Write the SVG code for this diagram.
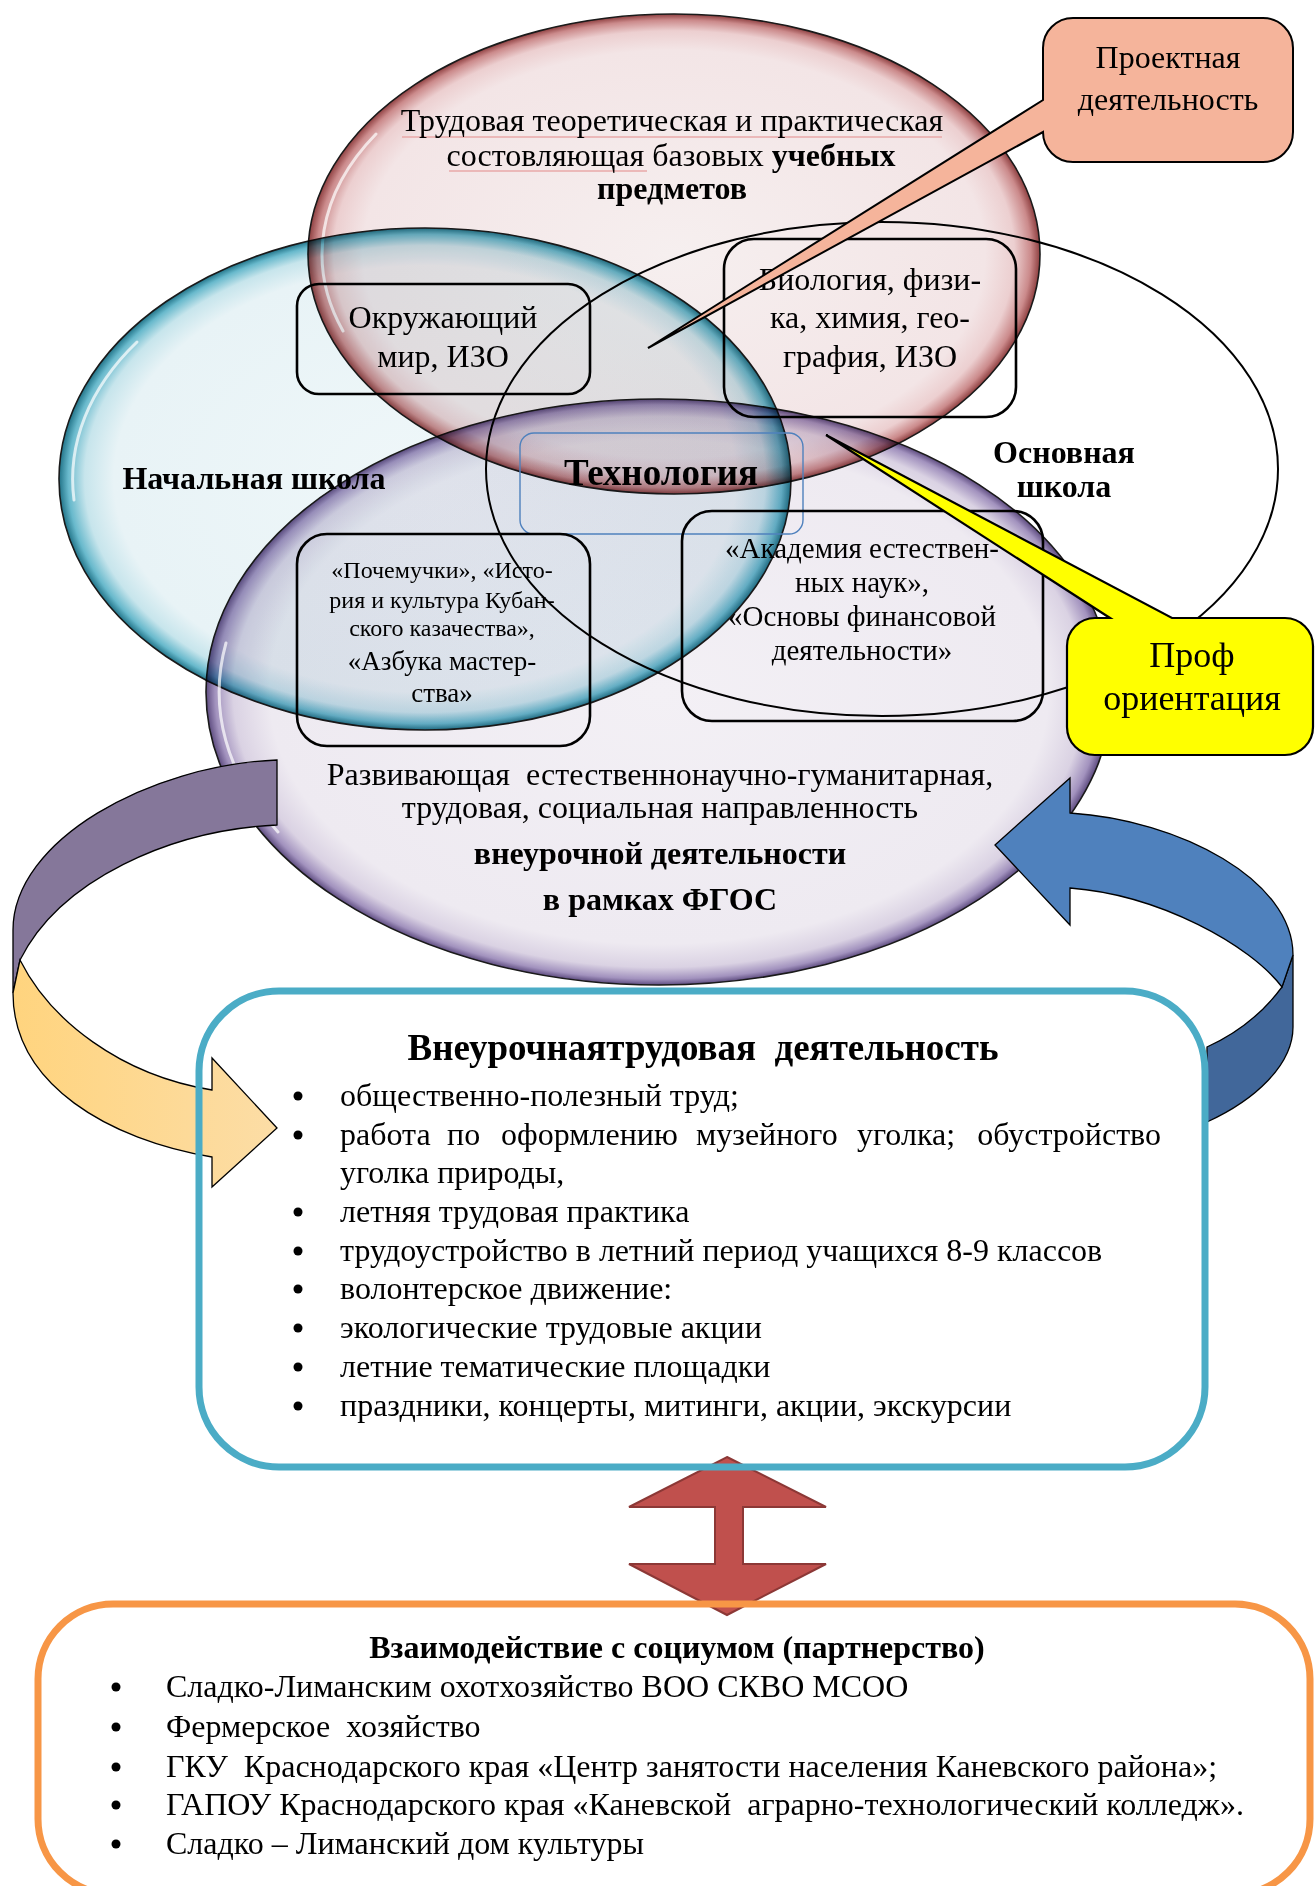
<svg xmlns="http://www.w3.org/2000/svg" width="1316" height="1886" viewBox="0 0 1316 1886">
<style>
.t{font-family:"Liberation Serif","Times New Roman",serif;fill:#000;font-size:32px;white-space:pre}
.c{text-anchor:middle}
.b{font-weight:bold}
.bub{mix-blend-mode:multiply;stroke:#1a1a1a;stroke-width:1.6}
.box{fill:none;stroke:#000;stroke-width:2.6}
.hl{fill:none;stroke:#fff;stroke-width:3;opacity:.7;stroke-linecap:round}
.arr{stroke:#000;stroke-width:1.3}
</style>
<defs>
<radialGradient id="gPink" cx="50%" cy="50%" r="50%">
<stop offset="0" stop-color="#F6EFEF"/><stop offset="0.85" stop-color="#F3E5E6"/><stop offset="0.93" stop-color="#ECCFD0"/><stop offset="0.975" stop-color="#CB8A8B"/><stop offset="1" stop-color="#8E3F40"/>
</radialGradient>
<radialGradient id="gBlue" cx="50%" cy="50%" r="50%">
<stop offset="0" stop-color="#EFF7F9"/><stop offset="0.85" stop-color="#E8F3F6"/><stop offset="0.93" stop-color="#C7E5EC"/><stop offset="0.975" stop-color="#68B9CC"/><stop offset="1" stop-color="#217388"/>
</radialGradient>
<radialGradient id="gPurp" cx="50%" cy="50%" r="50%">
<stop offset="0" stop-color="#F3F0F5"/><stop offset="0.86" stop-color="#EEEAF1"/><stop offset="0.94" stop-color="#DAD2E3"/><stop offset="0.98" stop-color="#A292BE"/><stop offset="1" stop-color="#5E4C80"/>
</radialGradient>
<linearGradient id="gYel" x1="0" y1="0" x2="1" y2="0">
<stop offset="0" stop-color="#FFD47E"/><stop offset="1" stop-color="#FCDDA6"/>
</linearGradient>
</defs>

<g id="bubble-top">
<ellipse class="bub" cx="674" cy="254" rx="366" ry="240" fill="url(#gPink)"/>
<path class="hl" d="M343 331 A352 226 0 0 1 376 134"/>
</g>
<g id="bubble-primary">
<ellipse class="bub" cx="425" cy="479" rx="366" ry="251" fill="url(#gBlue)"/>
<path class="hl" d="M74 500 A352 238 0 0 1 137 342"/>
</g>
<g id="bubble-bottom">
<ellipse class="bub" cx="659" cy="692" rx="453" ry="293" fill="url(#gPurp)"/>
<path class="hl" d="M278 832 A440 280 0 0 1 226 643"/>
</g>
<g id="bubble-basic">
<ellipse cx="882" cy="469" rx="396" ry="247" fill="none" stroke="#000" stroke-width="2"/>
</g>

<g id="label-top">
<line x1="402" y1="137" x2="942" y2="137" stroke="#E9A9A9" stroke-width="1.4"/>
<line x1="449" y1="171" x2="647" y2="171" stroke="#E9A9A9" stroke-width="1.4"/>
<text class="t c" x="672" y="131">Трудовая теоретическая и практическая</text>
<text class="t c" x="671" y="166">состовляющая базовых <tspan class="b">учебных</tspan></text>
<text class="t c b" x="672" y="199">предметов</text>
</g>
<g id="label-primary"><text class="t c b" x="254" y="489">Начальная школа</text></g>
<g id="label-basic">
<text class="t c b" x="1064" y="463">Основная</text>
<text class="t c b" x="1064" y="497">школа</text>
</g>
<g id="label-bottom">
<text class="t c" x="660" y="785">Развивающая  естественнонаучно-гуманитарная,</text>
<text class="t c" x="660" y="818">трудовая, социальная направленность</text>
<text class="t c b" x="660" y="864">внеурочной деятельности</text>
<text class="t c b" x="660" y="910">в рамках ФГОС</text>
</g>

<g id="box-okr">
<rect class="box" x="297" y="284" width="293" height="110" rx="22"/>
<text class="t c" x="443" y="328">Окружающий</text>
<text class="t c" x="443" y="367">мир, ИЗО</text>
</g>
<g id="box-bio">
<rect class="box" x="724" y="239" width="292" height="178" rx="30"/>
<text class="t c" x="870" y="290">Биология, физи-</text>
<text class="t c" x="870" y="328">ка, химия, гео-</text>
<text class="t c" x="870" y="367">графия, ИЗО</text>
</g>
<g id="box-tech">
<rect x="520" y="433" width="283" height="101" rx="14" fill="none" stroke="#4F81BD" stroke-width="1.4"/>
<text class="t c b" x="661" y="485" style="font-size:37px">Технология</text>
</g>
<g id="box-poch">
<rect class="box" x="297" y="534" width="293" height="212" rx="30"/>
<text class="t c" x="442" y="578" style="font-size:24px">«Почемучки», «Исто-</text>
<text class="t c" x="442" y="608" style="font-size:24px">рия и культура Кубан-</text>
<text class="t c" x="442" y="636" style="font-size:24px">ского казачества»,</text>
<text class="t c" x="442" y="670" style="font-size:27px">«Азбука мастер-</text>
<text class="t c" x="442" y="702" style="font-size:27px">ства»</text>
</g>
<g id="box-akad">
<rect class="box" x="682" y="511" width="361" height="210" rx="30"/>
<text class="t c" x="862" y="558" style="font-size:29px">«Академия естествен-</text>
<text class="t c" x="862" y="592" style="font-size:29px">ных наук»,</text>
<text class="t c" x="862" y="626" style="font-size:29px">«Основы финансовой</text>
<text class="t c" x="862" y="660" style="font-size:29px">деятельности»</text>
</g>

<g id="connectors">
<path class="arr" fill="#85779A" d="M277 760 L277 825 C170 830 60 880 20 960 L13 993 L13 930 C13 840 150 765 277 760 Z"/>
<path class="arr" fill="url(#gYel)" d="M20 960 C50 1020 120 1075 212 1090 L212 1058 L277 1128 L212 1187 L212 1157 C110 1140 13 1085 13 993 Z"/>
<path class="arr" fill="#41679A" stroke-width="2" d="M1293 955 L1293 1027 C1293 1065 1255 1100 1207 1122 L1207 1047 C1240 1032 1265 1010 1282 987 Z"/>
<path class="arr" fill="#4F81BD" stroke-width="2" d="M995 845 L1070 778 L1070 813 C1180 820 1293 880 1293 955 L1282 987 C1250 945 1160 895 1070 888 L1070 925 Z"/>
<path fill="#C0504D" stroke="#8C3836" stroke-width="2" d="M727 1457 L826 1507 L743 1507 L743 1564 L826 1564 L727 1615 L629 1564 L715 1564 L715 1507 L629 1507 Z"/>
</g>

<g id="box-extra">
<rect x="199" y="991" width="1006" height="476" rx="80" fill="none" stroke="#4BACC6" stroke-width="7"/>
<text class="t c b" x="703" y="1060" style="font-size:37px">Внеурочнаятрудовая  деятельность</text>
<g fill="#000">
<circle cx="298" cy="1096" r="4.5"/><circle cx="298" cy="1135" r="4.5"/><circle cx="298" cy="1212" r="4.5"/><circle cx="298" cy="1251" r="4.5"/><circle cx="298" cy="1289" r="4.5"/><circle cx="298" cy="1328" r="4.5"/><circle cx="298" cy="1367" r="4.5"/><circle cx="298" cy="1406" r="4.5"/>
</g>
<text class="t" x="340" y="1106">общественно-полезный труд;</text>
<text class="t" y="1145"><tspan x="340">работа</tspan><tspan x="447">по</tspan><tspan x="501">оформлению</tspan><tspan x="696">музейного</tspan><tspan x="857">уголка;</tspan></text>
<text class="t" x="1161" y="1145" text-anchor="end">обустройство</text>
<text class="t" x="340" y="1183">уголка природы,</text>
<text class="t" x="340" y="1222">летняя трудовая практика</text>
<text class="t" x="340" y="1261">трудоустройство в летний период учащихся 8-9 классов</text>
<text class="t" x="340" y="1299">волонтерское движение:</text>
<text class="t" x="340" y="1338">экологические трудовые акции</text>
<text class="t" x="340" y="1377">летние тематические площадки</text>
<text class="t" x="340" y="1416">праздники, концерты, митинги, акции, экскурсии</text>
</g>

<g id="box-partners">
<rect x="38" y="1604" width="1272" height="290" rx="75" fill="none" stroke="#F79646" stroke-width="7"/>
<text class="t c b" x="677" y="1658">Взаимодействие с социумом (партнерство)</text>
<g fill="#000">
<circle cx="116" cy="1687" r="4.5"/><circle cx="116" cy="1727" r="4.5"/><circle cx="116" cy="1767" r="4.5"/><circle cx="116" cy="1805" r="4.5"/><circle cx="116" cy="1844" r="4.5"/>
</g>
<text class="t" x="166" y="1697">Сладко-Лиманским охотхозяйство ВОО СКВО МСОО</text>
<text class="t" x="166" y="1737">Фермерское  хозяйство</text>
<text class="t" x="166" y="1777">ГКУ  Краснодарского края «Центр занятости населения Каневского района»;</text>
<text class="t" x="166" y="1815">ГАПОУ Краснодарского края «Каневской  аграрно-технологический колледж».</text>
<text class="t" x="166" y="1854">Сладко – Лиманский дом культуры</text>
</g>

<g id="callout-project">
<path fill="#F5B49B" stroke="#000" stroke-width="2" d="M1073 18 H1263 A30 30 0 0 1 1293 48 V132 A30 30 0 0 1 1263 162 H1073 A30 30 0 0 1 1043 132 L648 348 L1043 100 V48 A30 30 0 0 1 1073 18 Z"/>
<text class="t c" x="1168" y="68">Проектная</text>
<text class="t c" x="1168" y="110">деятельность</text>
</g>
<g id="callout-prof">
<path fill="#FFFF00" stroke="#000" stroke-width="2.2" d="M1095 618 H1110 L826 435 L1172 618 H1285 A28 28 0 0 1 1313 646 V727 A28 28 0 0 1 1285 755 H1095 A28 28 0 0 1 1067 727 V646 A28 28 0 0 1 1095 618 Z"/>
<text class="t c" x="1192" y="667" style="font-size:36px">Проф</text>
<text class="t c" x="1192" y="710" style="font-size:36px">ориентация</text>
</g>
</svg>
